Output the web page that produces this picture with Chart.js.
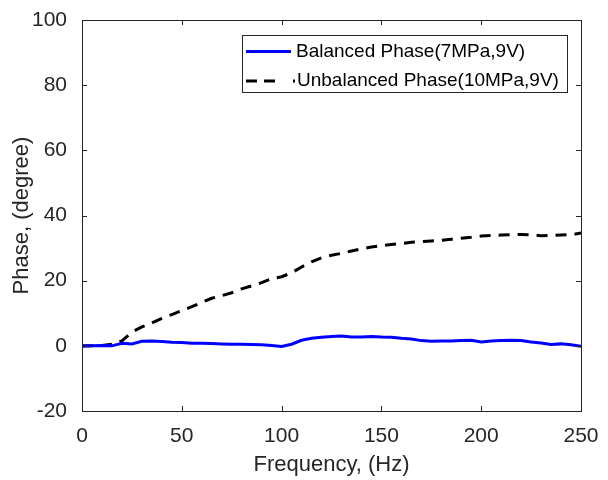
<!DOCTYPE html>
<html>
<head>
<meta charset="utf-8">
<script src="https://cdn.jsdelivr.net/npm/chart.js@4"></script>
<style>
  html, body { margin: 0; padding: 0; background: #fff; }
  #wrap { width: 608px; height: 480px; }
</style>
</head>
<body>
<div id="wrap"><canvas id="myChart" width="608" height="480"></canvas></div>
<script>
// data
const freq = [0, 5, 10, 15, 20, 25, 30, 35, 40, 45, 50, 55, 60, 65, 70, 75, 80, 85, 90, 95, 100,
  105, 110, 115, 120, 125, 130, 135, 140, 145, 150, 155, 160, 165, 170, 175, 180, 185, 190, 195, 200,
  205, 210, 215, 220, 225, 230, 235, 240, 245, 250];
const balanced = [-0.1, 0, 0.1, 0, 0.8, 0.6, 1.4, 1.5, 1.3, 1.1, 1.0, 0.8, 0.8, 0.7, 0.6, 0.5, 0.5, 0.4, 0.3, 0.1, -0.2,
  0.5, 1.7, 2.3, 2.6, 2.9, 3.0, 2.7, 2.7, 2.9, 2.7, 2.6, 2.3, 2.1, 1.6, 1.4, 1.5, 1.5, 1.6, 1.7, 1.2,
  1.5, 1.6, 1.7, 1.6, 1.2, 0.9, 0.4, 0.6, 0.3, -0.1];
const unbalanced = [0, 0, 0.1, 0.5, 1.5, 4.2, 5.8, 7, 8.4, 9.6, 10.8, 12, 13.3, 14.6, 15.4, 16.3, 17.5, 18.4, 19.4, 20.6, 21.2,
  22.4, 24.2, 25.8, 27, 27.8, 28.4, 29.1, 29.8, 30.3, 30.7, 31.1, 31.4, 31.8, 32, 32.2, 32.4, 32.7, 33, 33.3, 33.7,
  33.9, 34, 34.1, 34.2, 34.1, 33.8, 33.9, 34, 34.1, 34.6];
const xTicks = [0, 50, 100, 150, 200, 250];
const yTicks = [-20, 0, 20, 40, 60, 80, 100];
const seriesNames = ['Balanced Phase(7MPa,9V)', 'Unbalanced Phase(10MPa,9V)'];

const axisColor = '#262626';
const fontFamily = '"Liberation Sans", Arial, sans-serif';

function pts(ys) {
  return freq.map(function (f, i) { return { x: f, y: ys[i] }; });
}

// box, inward ticks and legend like matlab
const boxPlugin = {
  id: 'boxPlugin',
  afterDraw(chart) {
    const ctx = chart.ctx;
    const a = chart.chartArea;
    const xs = chart.scales.x, ys = chart.scales.y;
    ctx.save();
    ctx.strokeStyle = axisColor;
    ctx.lineWidth = 1;
    ctx.strokeRect(a.left + 0.5, a.top + 0.5, a.right - a.left, a.bottom - a.top);
    ctx.beginPath();
    xTicks.forEach(function (t) {
      const px = Math.round(xs.getPixelForValue(t)) + 0.5;
      ctx.moveTo(px, a.bottom); ctx.lineTo(px, a.bottom - 5);
      ctx.moveTo(px, a.top); ctx.lineTo(px, a.top + 5);
    });
    yTicks.forEach(function (t) {
      const py = Math.round(ys.getPixelForValue(t)) + 0.5;
      ctx.moveTo(a.left, py); ctx.lineTo(a.left + 5, py);
      ctx.moveTo(a.right, py); ctx.lineTo(a.right - 5, py);
    });
    ctx.stroke();

    // legend
    const lx = 242, ly = 35, lw = 325, lh = 57;
    ctx.fillStyle = '#fff';
    ctx.fillRect(lx, ly, lw, lh);
    ctx.strokeStyle = axisColor;
    ctx.strokeRect(lx + 0.5, ly + 0.5, lw, lh);
    const rows = [ly + 16.5, ly + 46];
    ctx.lineWidth = 3;
    ctx.strokeStyle = '#0000ff';
    ctx.beginPath(); ctx.moveTo(246, rows[0]); ctx.lineTo(291, rows[0]); ctx.stroke();
    ctx.strokeStyle = '#000';
    ctx.beginPath();
    ctx.moveTo(246, rows[1]); ctx.lineTo(257, rows[1]);
    ctx.moveTo(264, rows[1]); ctx.lineTo(275, rows[1]);
    ctx.moveTo(293, rows[1]); ctx.lineTo(295, rows[1]);
    ctx.stroke();
    ctx.fillStyle = '#000';
    ctx.font = '19px ' + fontFamily;
    ctx.textBaseline = 'middle';
    ctx.fillText(seriesNames[0], 296, rows[0]);
    ctx.fillText(seriesNames[1], 297, rows[1]);
    ctx.restore();
  }
};

const data = {
  datasets: [{
    label: seriesNames[0],
    data: pts(balanced),
    borderColor: '#0000ff',
    borderWidth: 3,
    pointRadius: 0,
    tension: 0
  }, {
    label: seriesNames[1],
    data: pts(unbalanced),
    borderColor: '#000000',
    borderWidth: 3,
    borderDash: [11, 8],
    pointRadius: 0,
    tension: 0
  }]
};

const config = {
  type: 'line',
  data,
  options: {
    responsive: false,
    animation: false,
    layout: { padding: { left: 0, right: 27, top: 20, bottom: 0 } },
    plugins: { legend: { display: false }, tooltip: { enabled: false } },
    scales: {
      x: {
        type: 'linear', min: 0, max: 250,
        grid: { display: false },
        border: { display: false },
        afterBuildTicks(scale) { scale.ticks = xTicks.map(function (v) { return { value: v }; }); },
        afterFit(scale) { scale.height = 69; },
        ticks: { color: axisColor, padding: 5, maxRotation: 0, font: { family: fontFamily, size: 21 } },
        title: { display: true, text: 'Frequency, (Hz)', color: axisColor, padding: { top: 2, bottom: 2 }, font: { family: fontFamily, size: 22 } }
      },
      y: {
        min: -20, max: 100,
        grid: { display: false },
        border: { display: false },
        afterBuildTicks(scale) { scale.ticks = yTicks.map(function (v) { return { value: v }; }); },
        afterFit(scale) { scale.width = 82; },
        ticks: { color: axisColor, padding: 7, font: { family: fontFamily, size: 21 } },
        title: { display: true, text: 'Phase, (degree)', color: axisColor, padding: { top: 9, bottom: 4 }, font: { family: fontFamily, size: 22 } }
      }
    }
  },
  plugins: [boxPlugin]
};

const myChart = new Chart(document.getElementById('myChart'), config);
</script>
</body>
</html>
